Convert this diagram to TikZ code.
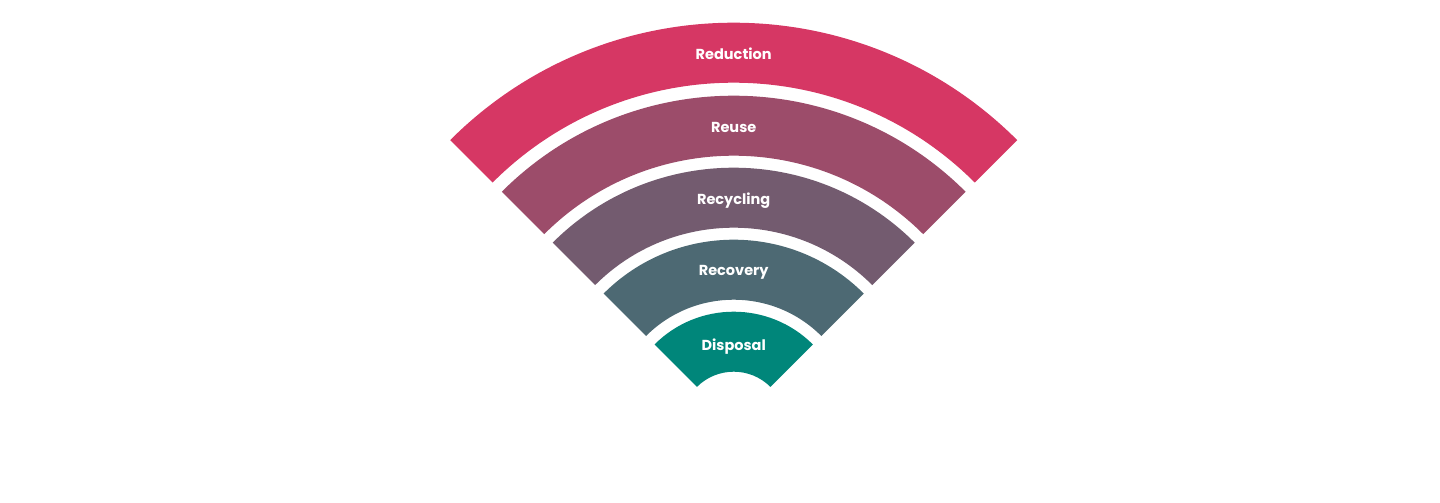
\documentclass[tikz,border=0pt]{standalone}
\usepackage{fontspec}
\setmainfont{Poppins}[Ligatures=NoCommon]
\usetikzlibrary{positioning}
\definecolor{reductionc}{RGB}{214,55,100}
\definecolor{reusec}{RGB}{156,76,106}
\definecolor{recyclingc}{RGB}{115,91,111}
\definecolor{recoveryc}{RGB}{77,105,115}
\definecolor{disposalc}{RGB}{0,134,122}

\begin{document}
\begin{tikzpicture}[x=1pt,y=1pt]
        \tikzset{lbl/.style= {text=white,font=\bfseries\fontsize{14.5}{17}\selectfont,inner sep=0pt},
        band/.style= {draw=none}
        }
        \useasboundingbox (-733.7,-79.3) rectangle (706.3,423.7);
%%% bands
        \fill[band,reductionc] (45:341) arc[start angle=45,end angle=135,radius=341]
                -- (135:401) arc[start angle=135,end angle=45,radius=401] -- cycle;
        \fill[band,reusec] (45:268) arc[start angle=45,end angle=135,radius=268]
                -- (135:328) arc[start angle=135,end angle=45,radius=328] -- cycle;
        \fill[band,recyclingc] (45:196) arc[start angle=45,end angle=135,radius=196]
                -- (135:256) arc[start angle=135,end angle=45,radius=256] -- cycle;
        \fill[band,recoveryc] (45:124) arc[start angle=45,end angle=135,radius=124]
                -- (135:184) arc[start angle=135,end angle=45,radius=184] -- cycle;
        \fill[band,disposalc] (45:52) arc[start angle=45,end angle=135,radius=52]
                -- (135:112) arc[start angle=135,end angle=45,radius=112] -- cycle;
%%% labels
        \node [lbl] (reduction) at (0,369.5) {Reduction};
        \node [lbl] (reuse) at (0,296) {Reuse};
        \node [lbl] (recycling) at (0,223.5) {Recycling};
        \node [lbl] (recovery) at (0,151) {Recovery};
        \node [lbl] (disposal) at (0,77) {Disposal};
    \end{tikzpicture}
\end{document}
